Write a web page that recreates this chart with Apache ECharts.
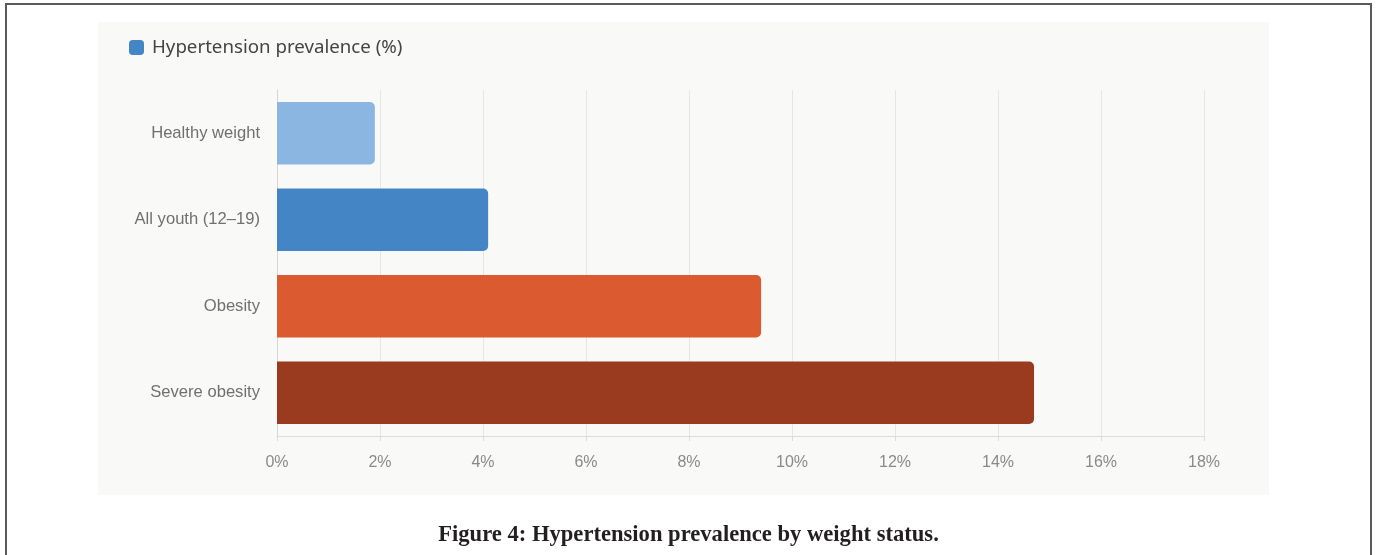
<!DOCTYPE html>
<html>
<head>
<meta charset="utf-8">
<script src="https://cdn.jsdelivr.net/npm/echarts@6/dist/echarts.min.js"></script>
<style>
  html, body { margin: 0; padding: 0; background: #ffffff; }
  #chart { width: 1377px; height: 555px; }
</style>
</head>
<body>
<div id="chart"></div>
<script>
// Weight status groups, top to bottom
const categories = ['Healthy weight', 'All youth (12\u201319)', 'Obesity', 'Severe obesity'];
// Hypertension prevalence, percent
const prevalence = [1.9, 4.1, 9.4, 14.7];
const barColors = ['#8ab6e1', '#4485c5', '#db5a30', '#9a3b20'];
const seriesName = 'Hypertension prevalence (%)';
const caption = 'Figure 4: Hypertension prevalence by weight status.';

const chart = echarts.init(document.getElementById('chart'), null, { renderer: 'canvas' });

chart.setOption({
  animation: false,
  backgroundColor: '#ffffff',
  graphic: [
    {
      type: 'rect', z: -10, silent: true,
      shape: { x: 6, y: 4, width: 1365, height: 600 },
      style: { fill: '#ffffff', stroke: '#5a5a5a', lineWidth: 2 }
    },
    {
      type: 'rect', z: -9, silent: true,
      shape: { x: 98, y: 22, width: 1171, height: 473 },
      style: { fill: '#f9f9f7' }
    }
  ],
  title: {
    text: caption,
    left: 'center',
    top: 519,
    textStyle: {
      fontFamily: 'Liberation Serif',
      fontWeight: 'bold',
      fontSize: 22.6,
      color: '#231f20'
    }
  },
  legend: {
    left: 124,
    top: 33,
    itemWidth: 15,
    itemHeight: 15,
    itemGap: 8,
    icon: 'roundRect',
    textStyle: { fontFamily: 'Noto Sans', fontSize: 18.7, color: '#444444', padding: [0, 0, 0, 3] },
    data: [seriesName]
  },
  grid: { left: 277, right: 173, top: 90, bottom: 119, containLabel: false },
  xAxis: {
    type: 'value',
    min: 0,
    max: 18,
    interval: 2,
    axisLine: { show: true, lineStyle: { color: '#dcdcdc' } },
    axisTick: { show: true, length: 5, lineStyle: { color: '#dcdcdc' } },
    splitLine: { show: true, lineStyle: { color: '#e6e6e6' } },
    axisLabel: {
      formatter: '{value}%',
      margin: 19,
      fontFamily: 'Liberation Sans',
      fontSize: 16,
      color: '#8a8a8a'
    }
  },
  yAxis: {
    type: 'category',
    data: categories,
    inverse: true,
    axisLine: { show: true, lineStyle: { color: '#d6d6d6' } },
    axisTick: { show: false },
    axisLabel: {
      margin: 17,
      fontFamily: 'Liberation Sans',
      fontSize: 16.6,
      color: '#707070'
    }
  },
  series: [{
    name: seriesName,
    type: 'bar',
    barCategoryGap: '28%',
    itemStyle: { color: '#4485c5', borderRadius: [0, 5, 5, 0] },
    data: prevalence.map((v, i) => ({ value: v, itemStyle: { color: barColors[i] } }))
  }]
});
</script>
</body>
</html>
